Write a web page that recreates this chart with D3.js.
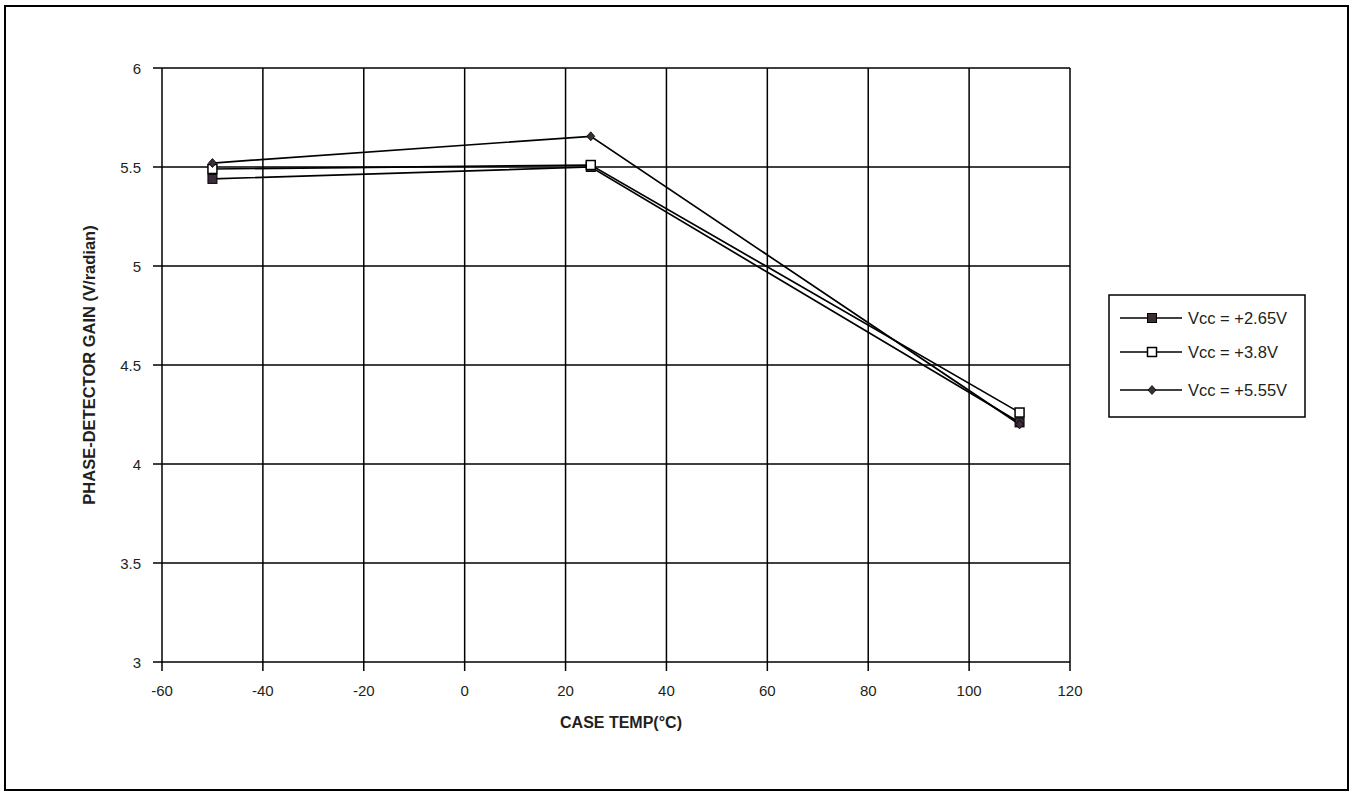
<!DOCTYPE html>
<html><head><meta charset="utf-8">
<script src="https://cdn.jsdelivr.net/npm/d3@7"></script>
<style>body{margin:0;background:#fff}svg{display:block}text{font-family:"Liberation Sans",Arial,sans-serif;fill:#231f20}</style>
</head><body>
<svg id="c" width="1354" height="795"></svg>
<script>
const temps = [-50, 25, 110];
const seriesNames = ["Vcc = +2.65V", "Vcc = +3.8V", "Vcc = +5.55V"];
const vcc265 = [5.44, 5.50, 4.21];
const vcc38 = [5.49, 5.51, 4.26];
const vcc555 = [5.52, 5.655, 4.20];
const markers = ["filledSquare", "openSquare", "diamond"];
const xTicks = [-60, -40, -20, 0, 20, 40, 60, 80, 100, 120];
const yTicks = [3, 3.5, 4, 4.5, 5, 5.5, 6];

const svg = d3.select("#c");
svg.append("rect").attr("x",5).attr("y",6).attr("width",1343).attr("height",784)
  .attr("fill","none").attr("stroke","#000").attr("stroke-width",2);

const x = d3.scaleLinear().domain([-60,120]).range([162,1070]);
const y = d3.scaleLinear().domain([3,6]).range([662,68]);

const g = svg.append("g");
g.selectAll(".vg").data(xTicks).join("line")
  .attr("x1",d=>x(d)).attr("x2",d=>x(d)).attr("y1",y(6)).attr("y2",y(3)+9)
  .attr("stroke","#000").attr("stroke-width",1.5);
g.selectAll(".hg").data(yTicks).join("line")
  .attr("y1",d=>y(d)).attr("y2",d=>y(d)).attr("x1",x(-60)-9).attr("x2",x(120))
  .attr("stroke","#000").attr("stroke-width",1.5);

g.selectAll(".xl").data(xTicks).join("text")
  .attr("x",d=>x(d)).attr("y",y(3)+34).attr("text-anchor","middle")
  .attr("font-size",15).text(d=>d);
g.selectAll(".yl").data(yTicks).join("text")
  .attr("x",x(-60)-21).attr("y",d=>y(d)+5.5).attr("text-anchor","end")
  .attr("font-size",15).text(d=>d);

svg.append("text").attr("x",621).attr("y",728).attr("text-anchor","middle")
  .attr("font-size",16).attr("font-weight","bold").text("CASE TEMP(°C)");
svg.append("text").attr("transform",`translate(95,${(y(3)+y(6))/2}) rotate(-90)`)
  .attr("text-anchor","middle").attr("font-size",16.5).attr("font-weight","bold")
  .text("PHASE-DETECTOR GAIN (V/radian)");

const data = [vcc265, vcc38, vcc555];
const line = d3.line().x((d,i)=>x(temps[i])).y(d=>y(d));

function drawMarker(sel, type, cx, cy) {
  if (type === "filledSquare") {
    sel.append("rect").attr("x",cx-4.5).attr("y",cy-4.5).attr("width",9).attr("height",9)
      .attr("fill","#3b2c3a").attr("stroke","#000").attr("stroke-width",1);
  } else if (type === "openSquare") {
    sel.append("rect").attr("x",cx-4.5).attr("y",cy-4.5).attr("width",9).attr("height",9)
      .attr("fill","#fff").attr("stroke","#000").attr("stroke-width",1.5);
  } else {
    sel.append("path").attr("d",`M${cx},${cy-4.5}L${cx+4},${cy}L${cx},${cy+4.5}L${cx-4},${cy}Z`)
      .attr("fill","#3b2c3a").attr("stroke","#000").attr("stroke-width",0.8);
  }
}

data.forEach((s,k)=>{
  svg.append("path").datum(s).attr("d",line).attr("fill","none")
    .attr("stroke","#000").attr("stroke-width",1.7);
});
data.forEach((s,k)=>{
  const mg = svg.append("g");
  s.forEach((v,i)=>drawMarker(mg, markers[k], x(temps[i]), y(v)));
});

const lg = svg.append("g");
lg.append("rect").attr("x",1109).attr("y",295).attr("width",196).attr("height",122)
  .attr("fill","#fff").attr("stroke","#000").attr("stroke-width",1.5);
const legY = [318, 352, 390];
seriesNames.forEach((n,k)=>{
  lg.append("line").attr("x1",1120).attr("x2",1182).attr("y1",legY[k]).attr("y2",legY[k])
    .attr("stroke","#000").attr("stroke-width",1.7);
  drawMarker(lg, markers[k], 1152, legY[k]);
  lg.append("text").attr("x",1188).attr("y",legY[k]+6).attr("font-size",16.5).text(n);
});
</script>
</body></html>
